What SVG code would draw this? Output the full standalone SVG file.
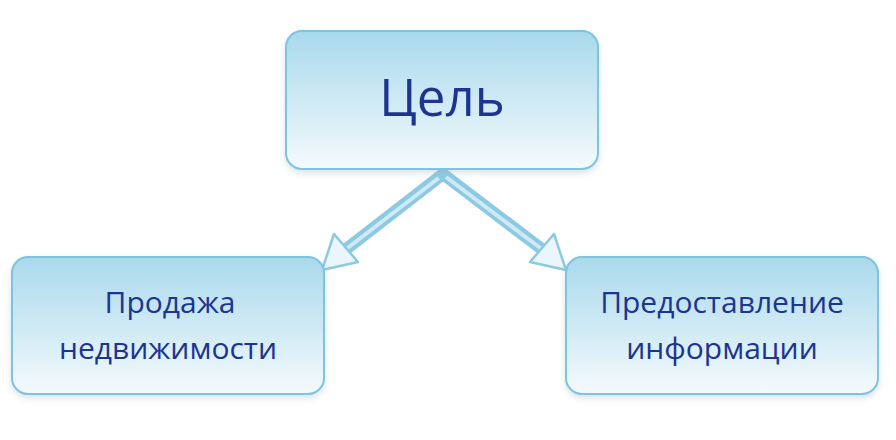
<svg xmlns="http://www.w3.org/2000/svg" width="896" height="440" viewBox="0 0 896 440">
<defs>
<linearGradient id="g" x1="0" y1="0" x2="0" y2="1"><stop offset="0" stop-color="#a9d9ec"/><stop offset="1" stop-color="#f4fafd"/></linearGradient>
<filter id="s" x="-10%" y="-10%" width="120%" height="130%"><feDropShadow dx="0" dy="3" stdDeviation="3" flood-color="#9ab" flood-opacity="0.35"/></filter>
</defs>
<style>
.box{fill:url(#g);stroke:#7cc4e0;stroke-width:2;filter:url(#s)}
.t{font-family:"Open Sans","Liberation Sans",sans-serif;fill:#1c3590;text-anchor:middle}
.sh{stroke:#8ccae3;stroke-width:12;stroke-linecap:round}
.in{stroke:#cfe9f5;stroke-width:4}
.hd{fill:#eaf6fb;stroke:#8ccae3;stroke-width:2.5;stroke-linejoin:round}
</style>
<rect width="896" height="440" fill="#fff"/>
<g id="connectors">
<line class="sh" x1="443" y1="174" x2="345" y2="250"/>
<line class="in" x1="440" y1="177" x2="345" y2="250"/>
<polygon class="hd" points="322,270 334,234 358,262"/>
<line class="sh" x1="443" y1="174" x2="543" y2="250"/>
<line class="in" x1="446" y1="177" x2="543" y2="250"/>
<polygon class="hd" points="566,270 530,262 554,234"/>
</g>
<g id="goal"><rect class="box" x="286" y="31" width="312" height="138" rx="16"/><text class="t" x="442" y="116" font-size="51">Цель</text></g>
<g id="sale"><rect class="box" x="12" y="257" width="312" height="137" rx="16"/><text class="t" x="170" y="313" font-size="30">Продажа</text><text class="t" x="168" y="359" font-size="30">недвижимости</text></g>
<g id="info"><rect class="box" x="566" y="257" width="312" height="137" rx="16"/><text class="t" x="722" y="313" font-size="30">Предоставление</text><text class="t" x="722" y="359" font-size="30">информации</text></g>
</svg>
